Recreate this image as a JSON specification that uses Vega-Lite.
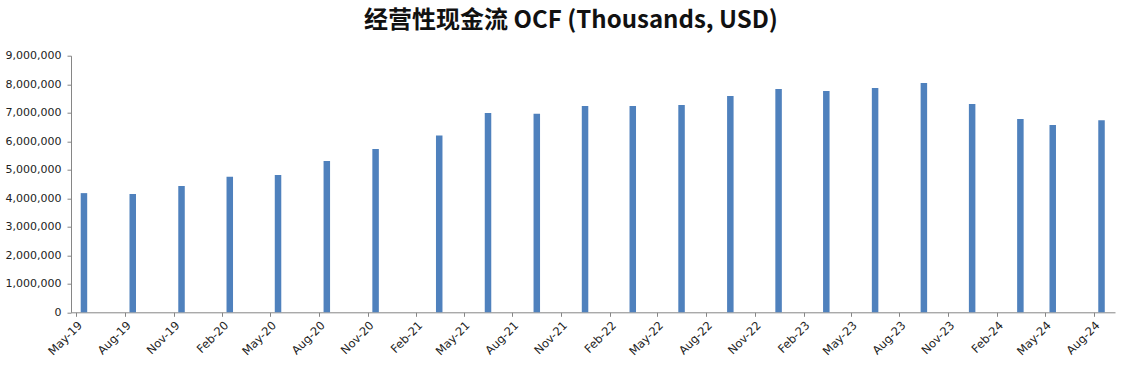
{
  "$schema": "https://vega.github.io/schema/vega-lite/v6.json",
  "width": 1044,
  "height": 256.6,
  "autosize": {"type": "none"},
  "padding": {"left": 71, "top": 55.7, "right": 16, "bottom": 58.7},
  "background": "white",
  "title": {
    "text": "经营性现金流 OCF (Thousands, USD)",
    "font": "Noto Sans CJK SC",
    "fontSize": 24,
    "fontWeight": "bold",
    "color": "#111111",
    "anchor": "middle",
    "frame": "group",
    "dx": -22,
    "offset": 17
  },
  "data": {
    "values": [
      {"date": "2019-05-16", "ocf": 4180000},
      {"date": "2019-08-16", "ocf": 4150000},
      {"date": "2019-11-16", "ocf": 4430000},
      {"date": "2020-02-15", "ocf": 4750000},
      {"date": "2020-05-16", "ocf": 4820000},
      {"date": "2020-08-16", "ocf": 5310000},
      {"date": "2020-11-16", "ocf": 5730000},
      {"date": "2021-03-16", "ocf": 6200000},
      {"date": "2021-06-16", "ocf": 6990000},
      {"date": "2021-09-16", "ocf": 6960000},
      {"date": "2021-12-16", "ocf": 7240000},
      {"date": "2022-03-16", "ocf": 7240000},
      {"date": "2022-06-16", "ocf": 7270000},
      {"date": "2022-09-16", "ocf": 7590000},
      {"date": "2022-12-16", "ocf": 7830000},
      {"date": "2023-03-16", "ocf": 7760000},
      {"date": "2023-06-16", "ocf": 7870000},
      {"date": "2023-09-16", "ocf": 8040000},
      {"date": "2023-12-16", "ocf": 7310000},
      {"date": "2024-03-16", "ocf": 6780000},
      {"date": "2024-05-16", "ocf": 6570000},
      {"date": "2024-08-16", "ocf": 6740000}
    ]
  },
  "mark": {"type": "bar", "width": 6.5, "color": "#4F81BD"},
  "encoding": {
    "x": {
      "field": "date",
      "type": "temporal",
      "scale": {
        "type": "utc",
        "domain": [
          {"year": 2019, "month": 5, "date": 1, "utc": true},
          {"year": 2024, "month": 9, "date": 1, "utc": true}
        ],
        "nice": false
      },
      "axis": {
        "title": null,
        "format": "%b-%y",
        "values": [
          {"year": 2019, "month": 5, "date": 1, "utc": true},
          {"year": 2019, "month": 8, "date": 1, "utc": true},
          {"year": 2019, "month": 11, "date": 1, "utc": true},
          {"year": 2020, "month": 2, "date": 1, "utc": true},
          {"year": 2020, "month": 5, "date": 1, "utc": true},
          {"year": 2020, "month": 8, "date": 1, "utc": true},
          {"year": 2020, "month": 11, "date": 1, "utc": true},
          {"year": 2021, "month": 2, "date": 1, "utc": true},
          {"year": 2021, "month": 5, "date": 1, "utc": true},
          {"year": 2021, "month": 8, "date": 1, "utc": true},
          {"year": 2021, "month": 11, "date": 1, "utc": true},
          {"year": 2022, "month": 2, "date": 1, "utc": true},
          {"year": 2022, "month": 5, "date": 1, "utc": true},
          {"year": 2022, "month": 8, "date": 1, "utc": true},
          {"year": 2022, "month": 11, "date": 1, "utc": true},
          {"year": 2023, "month": 2, "date": 1, "utc": true},
          {"year": 2023, "month": 5, "date": 1, "utc": true},
          {"year": 2023, "month": 8, "date": 1, "utc": true},
          {"year": 2023, "month": 11, "date": 1, "utc": true},
          {"year": 2024, "month": 2, "date": 1, "utc": true},
          {"year": 2024, "month": 5, "date": 1, "utc": true},
          {"year": 2024, "month": 8, "date": 1, "utc": true}
        ],
        "labelAngle": -45,
        "labelFont": "DejaVu Sans",
        "labelFontSize": 11.5,
        "labelColor": "#222222",
        "labelPadding": 3,
        "labelOverlap": false,
        "labelFlush": false,
        "grid": false,
        "domainColor": "#868686",
        "tickColor": "#868686",
        "tickSize": 4
      }
    },
    "y": {
      "field": "ocf",
      "type": "quantitative",
      "scale": {"domain": [0, 9000000], "nice": false},
      "axis": {
        "title": null,
        "values": [0, 1000000, 2000000, 3000000, 4000000, 5000000, 6000000, 7000000, 8000000, 9000000],
        "format": ",d",
        "labelFont": "DejaVu Sans",
        "labelFontSize": 11,
        "labelColor": "#222222",
        "labelPadding": 6,
        "grid": false,
        "domainColor": "#868686",
        "tickColor": "#868686",
        "tickSize": 4
      }
    }
  },
  "config": {"view": {"stroke": null}}
}
